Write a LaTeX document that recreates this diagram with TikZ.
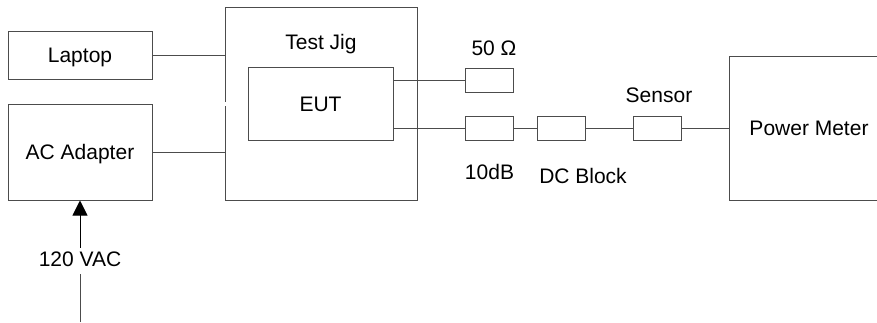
\documentclass[tikz,border=0pt]{standalone}
\usepackage{fontspec}
\setmainfont{Liberation Sans}
\usetikzlibrary{arrows.meta}
\begin{document}
\begin{tikzpicture}[x=1pt,y=-1pt,
  every node/.style={font=\fontsize{21}{25}\selectfont, text height=15pt, text depth=0pt, inner sep=0pt},
  box/.style={draw=black!70, line width=1pt, rectangle, anchor=center},
  ln/.style={draw=black!70, line width=1pt},
  lbl/.style={anchor=center}]
\clip (0,0) rectangle (877,322);
\fill[white] (0,0) rectangle (877,322);
% boxes
\node[box, minimum width=144, minimum height=48] (laptop) at (80,55) {Laptop};
\node[box, minimum width=144, minimum height=96] (ac) at (80,152) {AC Adapter};
\node[box, minimum width=192, minimum height=193] (jig) at (321,103.5) {};
\node[lbl] (jiglbl) at (321,42) {Test Jig};
\node[box, minimum width=145, minimum height=73] (eut) at (320.5,103.5) {EUT};
\node[box, minimum width=48, minimum height=24] (ohm) at (489,80) {};
\node[box, minimum width=48, minimum height=24] (att) at (489,128) {};
\node[box, minimum width=48, minimum height=24] (dcb) at (561,128) {};
\node[box, minimum width=48, minimum height=24] (sen) at (657,128) {};
\node[box, minimum width=160, minimum height=144] (pm) at (809,128) {Power Meter};
% labels
\node[lbl] (ohmlbl) at (494,48) {50 Ω};
\node[lbl] (senlbl) at (659,94.5) {Sensor};
\node[lbl] (attlbl) at (489.5,171.5) {10dB};
\node[lbl] (dcblbl) at (583,175.5) {DC Block};
\node[lbl, inner ysep=3.5pt] (vac) at (80,259) {120 VAC};
% gap in jig border
\draw[white, line width=2pt] (jig.west |- 0,102) -- (jig.west |- 0,106);
% connectors
\draw[ln] (laptop.east) -- (laptop.east -| jig.west);
\draw[ln] (ac.east) -- (ac.east -| jig.west);
\draw[ln] (eut.east |- ohm.west) -- (ohm.west);
\draw[ln] (eut.east |- att.west) -- (att.west);
\draw[ln] (att.east) -- (dcb.west);
\draw[ln] (dcb.east) -- (sen.west);
\draw[ln] (sen.east) -- (pm.west);
\coordinate (src) at (80,322);
\draw[ln] (src) -- ([yshift=-4pt]vac.south);
\draw[ln, -{Triangle[length=15pt,width=15pt]}, draw=black] (vac.north) -- (ac.south);
\end{tikzpicture}
\end{document}
